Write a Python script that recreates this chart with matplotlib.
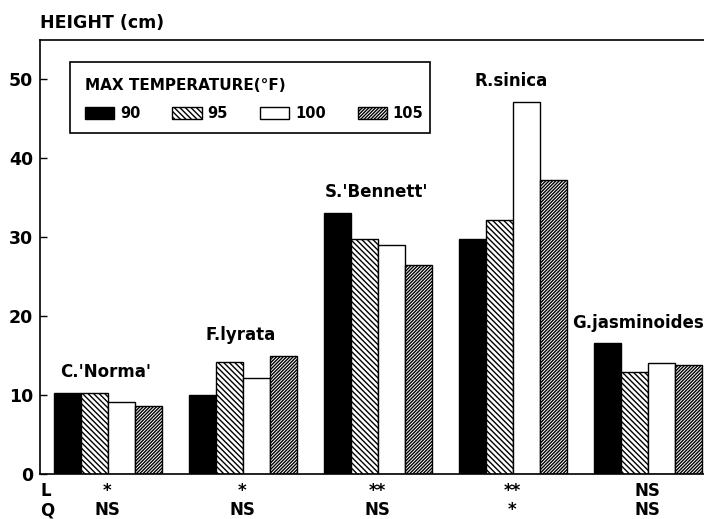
import matplotlib
matplotlib.use('Agg')
import matplotlib.pyplot as plt
from matplotlib.transforms import blended_transform_factory
from matplotlib.patches import Patch, Rectangle

species = ["C.'Norma'", "F.lyrata", "S.'Bennett'", "R.sinica", "G.jasminoides"]
temps = ["90", "95", "100", "105"]
h90 = [10.2, 10.0, 33.0, 29.7, 16.6]
h95 = [10.3, 14.2, 29.8, 32.2, 12.9]
h100 = [9.1, 12.2, 29.0, 47.1, 14.0]
h105 = [8.6, 14.9, 26.5, 37.2, 13.8]
sig_L = ["*", "*", "**", "**", "NS"]
sig_Q = ["NS", "NS", "NS", "*", "NS"]
yticks = [0, 10, 20, 30, 40, 50]

plt.rcParams['font.family'] = ['DejaVu Sans']
plt.rcParams['font.weight'] = 'bold'
plt.rcParams['hatch.linewidth'] = 1.0

fig = plt.figure(figsize=(7.04, 5.19), dpi=100)
W, H = 704, 519
ax = fig.add_axes([40 / W, 1 - 474 / H, 664 / W, 434 / H])

series = [h90, h95, h100, h105]
styles = [
    dict(facecolor='black', edgecolor='black', hatch=None),
    dict(facecolor='white', edgecolor='black', hatch='\\\\\\\\\\\\'),
    dict(facecolor='white', edgecolor='black', hatch=None),
    dict(facecolor='white', edgecolor='black', hatch='//////////'),
]
bw = 0.2
offsets = [-0.3, -0.1, 0.1, 0.3]
x = list(range(len(species)))
handles = []
for vals, st, off, t in zip(series, styles, offsets, temps):
    ax.bar([xi + off for xi in x], vals, width=bw, linewidth=1.0, **st)
    handles.append(Patch(label=t, linewidth=1.0, **st))

ax.set_xlim(-0.5, 4.4185)
ax.set_ylim(0, 54.94)
ax.set_yticks(yticks)
ax.set_yticklabels([str(v) for v in yticks], fontsize=12.5, fontweight='bold')
ax.set_xticks([])
ax.tick_params(axis='y', direction='in', length=5, width=1, pad=5)
ax.spines['right'].set_visible(False)
for s in ['left', 'top', 'bottom']:
    ax.spines[s].set_linewidth(1.2)

# species labels
for i, name in enumerate(species):
    top = max(s[i] for s in series)
    if i == len(species) - 1:
        ax.annotate(name, xy=(i + 0.4, top), xytext=(2, 14), textcoords='offset points',
                    ha='right', va='center', fontsize=12, fontweight='bold')
    else:
        ax.annotate(name, xy=(i, top), xytext=(-1, 15), textcoords='offset points',
                    ha='center', va='center', fontsize=12, fontweight='bold')

# L / Q significance rows
tr = blended_transform_factory(ax.transData, fig.transFigure)
yL = 1 - 491 / H
yQ = 1 - 510 / H
fig.text(40 / W, yL, 'L', ha='left', va='center', fontsize=12, fontweight='bold')
fig.text(40 / W, yQ, 'Q', ha='left', va='center', fontsize=12, fontweight='bold')
for i in x:
    ax.text(i, yL, sig_L[i], transform=tr, ha='center', va='center', fontsize=12, fontweight='bold')
    ax.text(i, yQ, sig_Q[i], transform=tr, ha='center', va='center', fontsize=12, fontweight='bold')

fig.text(40 / W, 1 - 23 / H, 'HEIGHT (cm)', ha='left', va='center', fontsize=12.5, fontweight='bold')

leg = ax.legend(handles=handles, ncol=4, loc='upper left',
                bbox_to_anchor=(85 / W, 1 - 78 / H), bbox_transform=fig.transFigure,
                borderaxespad=0, borderpad=0,
                title='MAX TEMPERATURE(°F)', alignment='left',
                prop=dict(size=10.5, weight='bold'),
                title_fontproperties=dict(size=11, weight='bold'),
                frameon=False,
                handlelength=2.0, handleheight=0.85, handletextpad=0.4,
                columnspacing=2.2, labelspacing=0.9)

fig.patches.append(Rectangle((70 / W, 1 - 133 / H), 360 / W, 71 / H, transform=fig.transFigure,
                             fill=False, edgecolor='black', linewidth=1.2, figure=fig))

fig.savefig('out.png', dpi=100)
